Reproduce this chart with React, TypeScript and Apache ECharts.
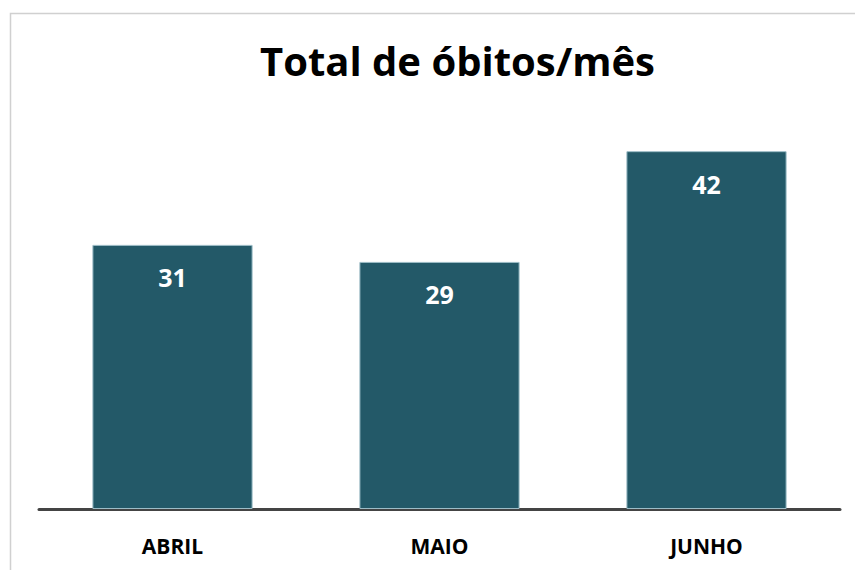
import React, { useEffect, useRef } from "react";
import * as echarts from "echarts";

const categories = ["ABRIL", "MAIO", "JUNHO"];
const values = [31, 29, 42];
const titleText = "Total de óbitos/mês";

export default function App() {
  const ref = useRef<HTMLDivElement>(null);
  useEffect(() => {
    document.body.style.margin = "0";
    const chart = echarts.init(ref.current!, null, { renderer: "svg" });
    chart.setOption({
      animation: false,
      backgroundColor: "#ffffff",
      title: {
        text: titleText,
        left: 255,
        top: 35,
        textStyle: { fontFamily: "Open Sans", fontWeight: "bold", fontSize: 40, color: "#000000" },
      },
      graphic: [
        {
          type: "rect",
          shape: { x: 10.5, y: 13.5, width: 900, height: 700 },
          style: { fill: "none", stroke: "#d0d0d0", lineWidth: 1.5 },
          silent: true,
        },
      ],
      grid: { left: 39, right: 15, top: 83, bottom: 61 },
      xAxis: {
        type: "category",
        data: categories,
        axisTick: { show: false },
        axisLine: { lineStyle: { color: "#444444", width: 3 } },
        axisLabel: {
          fontFamily: "Open Sans",
          fontWeight: "bold",
          fontSize: 21,
          color: "#000000",
          margin: 26,
        },
      },
      yAxis: {
        type: "value",
        min: 0,
        max: 50,
        show: false,
        splitLine: { show: false },
      },
      series: [
        {
          type: "bar",
          data: values,
          barWidth: "60%",
          itemStyle: { color: "#235968", borderColor: "#9dbcc6", borderWidth: 1 },
          label: {
            show: true,
            position: "insideTop",
            distance: 20,
            fontFamily: "Open Sans",
            fontWeight: "bold",
            fontSize: 25,
            color: "#ffffff",
          },
        },
      ],
    });
    return () => chart.dispose();
  }, []);
  return <div ref={ref} style={{ width: 855, height: 570 }} />;
}
